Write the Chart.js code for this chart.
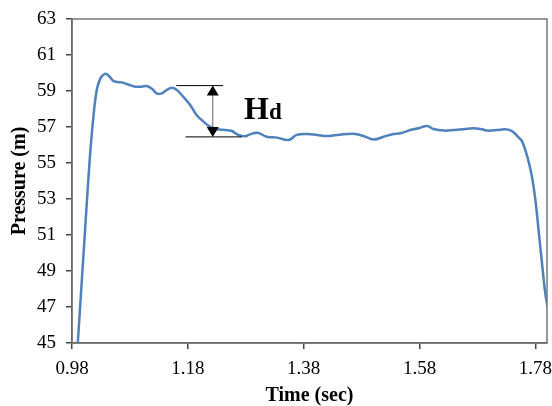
<!DOCTYPE html>
<html>
<head>
<meta charset="utf-8">
<script src="https://cdn.jsdelivr.net/npm/chart.js@4/dist/chart.umd.min.js"></script>
<style>
  html, body { margin: 0; padding: 0; background: #fff; }
  #wrap { width: 552px; height: 406px; }
</style>
</head>
<body>
<div id="wrap"><canvas id="pressureChart" width="552" height="406"></canvas></div>
<script>
// time (sec) and pressure (m)
const times = [
  0.990, 0.994, 1.000, 1.006, 1.012, 1.018, 1.023, 1.029, 1.035, 1.040,
  1.046, 1.052, 1.058, 1.066, 1.077, 1.089, 1.100, 1.109, 1.118, 1.127,
  1.135, 1.144, 1.152, 1.161, 1.172, 1.184, 1.195, 1.207, 1.218, 1.230,
  1.244, 1.256, 1.267, 1.279, 1.285, 1.300, 1.316, 1.334, 1.354, 1.368,
  1.386, 1.403, 1.420, 1.437, 1.455, 1.469, 1.483, 1.501, 1.518, 1.535,
  1.547, 1.564, 1.578, 1.593, 1.604, 1.622, 1.639, 1.656, 1.673, 1.688,
  1.697, 1.714, 1.728, 1.740, 1.750, 1.757, 1.766, 1.774, 1.780, 1.786,
  1.792, 1.797, 1.801, 1.805
];
const pressure = [
  45.0, 47.0, 50.0, 53.0, 55.8, 57.9, 59.1, 59.7, 59.92, 59.94,
  59.75, 59.55, 59.5, 59.48, 59.36, 59.24, 59.24, 59.28, 59.12, 58.85,
  58.87, 59.06, 59.18, 59.06, 58.68, 58.22, 57.67, 57.3, 57.02, 56.87,
  56.83, 56.78, 56.56, 56.48, 56.56, 56.68, 56.46, 56.41, 56.28, 56.56,
  56.61, 56.56, 56.5, 56.56, 56.61, 56.61, 56.5, 56.31, 56.46, 56.61,
  56.65, 56.83, 56.93, 57.06, 56.89, 56.8, 56.83, 56.87, 56.93, 56.87,
  56.8, 56.83, 56.87, 56.76, 56.45, 56.2, 55.35, 54.24, 52.94, 51.09,
  49.24, 47.76, 47.0, 45.8
];
const xTicks = [0.98, 1.18, 1.38, 1.58, 1.78];
const yTicks = [45, 47, 49, 51, 53, 55, 57, 59, 61, 63];

// Hd marker (data units)
const hdHigh = 59.3;
const hdLow = 56.45;
const hdArrowTime = 1.223;
const hdHighSpan = [1.160, 1.241];
const hdLowSpan = [1.176, 1.273];
const hdLabelAt = [1.277, 57.45];

const serif = "'Liberation Serif', 'Times New Roman', serif";

const frameAndMarker = {
    id: 'frameAndMarker',
    afterDatasetsDraw(chart) {
        const { ctx, chartArea: a, scales: { x, y } } = chart;
        ctx.save();
        // plot frame
        ctx.strokeStyle = '#777';
        ctx.lineWidth = 1.5;
        ctx.strokeRect(a.left, a.top, a.right - a.left, a.bottom - a.top);

        // Hd bars
        const yHi = y.getPixelForValue(hdHigh);
        const yLo = y.getPixelForValue(hdLow);
        ctx.strokeStyle = '#000';
        ctx.lineWidth = 1;
        ctx.beginPath();
        ctx.moveTo(x.getPixelForValue(hdHighSpan[0]), yHi);
        ctx.lineTo(x.getPixelForValue(hdHighSpan[1]), yHi);
        ctx.moveTo(x.getPixelForValue(hdLowSpan[0]), yLo);
        ctx.lineTo(x.getPixelForValue(hdLowSpan[1]), yLo);
        ctx.stroke();

        // double arrow
        const xa = x.getPixelForValue(hdArrowTime);
        ctx.strokeStyle = '#666';
        ctx.beginPath();
        ctx.moveTo(xa, yHi + 8);
        ctx.lineTo(xa, yLo - 8);
        ctx.stroke();
        ctx.fillStyle = '#000';
        ctx.beginPath();
        ctx.moveTo(xa, yHi);
        ctx.lineTo(xa - 6, yHi + 10);
        ctx.lineTo(xa + 6, yHi + 10);
        ctx.closePath();
        ctx.moveTo(xa, yLo);
        ctx.lineTo(xa - 6, yLo - 10);
        ctx.lineTo(xa + 6, yLo - 10);
        ctx.closePath();
        ctx.fill();

        // label
        const lx = x.getPixelForValue(hdLabelAt[0]);
        const ly = y.getPixelForValue(hdLabelAt[1]);
        ctx.textBaseline = 'alphabetic';
        ctx.textAlign = 'left';
        ctx.font = 'bold 32px ' + serif;
        ctx.fillText('H', lx, ly);
        const w = ctx.measureText('H').width;
        ctx.font = 'bold 23px ' + serif;
        ctx.fillText('d', lx + w, ly);
        ctx.restore();
    }
};

new Chart(document.getElementById('pressureChart'), {
    type: 'line',
    data: {
        datasets: [{
            data: times.map((t, i) => ({ x: t, y: pressure[i] })),
            borderColor: '#4F81BD',
            borderWidth: 2.5,
            pointRadius: 0,
            tension: 0.4,
            fill: false
        }]
    },
    options: {
        responsive: false,
        animation: false,
        devicePixelRatio: 1,
        layout: { padding: { top: 19, right: 5, left: 0, bottom: 0 } },
        plugins: { legend: { display: false }, tooltip: { enabled: false } },
        scales: {
            x: {
                type: 'linear',
                min: 0.98,
                max: 1.80,
                afterBuildTicks: s => { s.ticks = xTicks.map(v => ({ value: v })); },
                afterFit: s => { s.height = 63; s.paddingLeft = 0; s.paddingRight = 0; },
                ticks: {
                    color: '#000',
                    font: { family: serif, size: 19 },
                    padding: 9,
                    maxRotation: 0,
                    callback: v => Number(v).toFixed(2)
                },
                grid: { drawOnChartArea: false, tickLength: 6, color: '#444', lineWidth: 1.5 },
                border: { color: '#444', width: 1.5 },
                title: {
                    display: true,
                    text: 'Time (sec)',
                    color: '#000',
                    font: { family: serif, size: 20, weight: 'bold', lineHeight: 1 },
                    padding: { top: 0, bottom: 0 }
                }
            },
            y: {
                min: 45,
                max: 63,
                afterBuildTicks: s => { s.ticks = yTicks.map(v => ({ value: v })); },
                afterFit: s => { s.width = 72; s.paddingTop = 0; s.paddingBottom = 0; },
                ticks: {
                    color: '#000',
                    font: { family: serif, size: 19 },
                    padding: 10
                },
                grid: { drawOnChartArea: false, tickLength: 6, color: '#444', lineWidth: 1.5 },
                border: { color: '#444', width: 1.5 },
                title: {
                    display: true,
                    text: 'Pressure (m)',
                    color: '#000',
                    font: { family: serif, size: 20, weight: 'bold', lineHeight: 1 },
                    padding: { top: 10, bottom: 0 }
                }
            }
        }
    },
    plugins: [frameAndMarker]
});
</script>
</body>
</html>
